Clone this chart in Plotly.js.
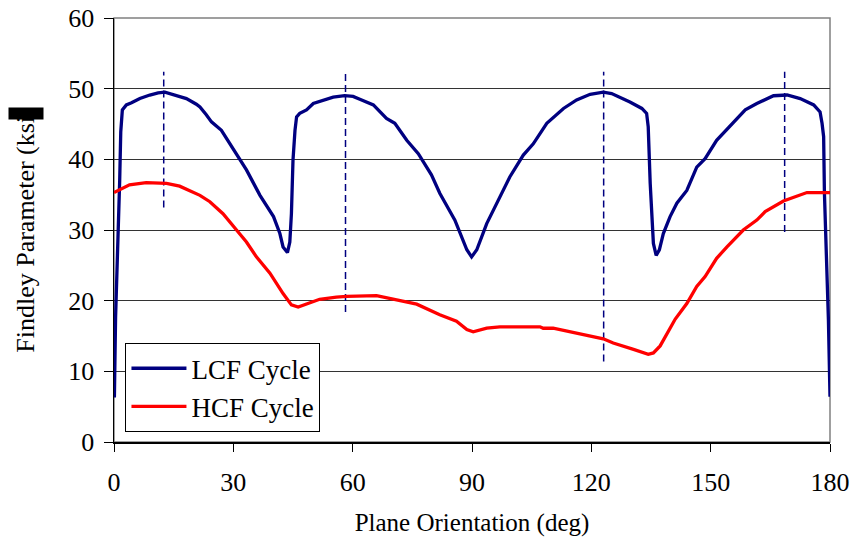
<!DOCTYPE html>
<html>
<head>
<meta charset="utf-8">
<script src="https://cdn.plot.ly/plotly-3.0.1.min.js"></script>
<style>html,body{margin:0;padding:0;background:#fff;}#chart{width:854px;height:544px;}</style>
</head>
<body>
<div id="chart"></div>
<script>
const lcfX = [0.1,0.4,1.43,1.7,2.1,3.1,4.4,6.5,9.0,11.1,12.8,16.1,18.2,20.7,21.6,23.2,24.5,27.0,27.8,29.9,33.3,36.7,40.1,41.7,42.5,43.6,44.2,44.6,45.0,45.5,45.9,46.7,48.4,50.1,52.6,55.1,58.0,60.1,61.8,65.2,68.5,70.6,73.6,76.5,79.8,81.9,85.7,87.4,88.7,89.9,91.2,93.7,96.2,99.5,102.9,105.4,108.8,113.0,116.3,119.7,123.0,125.1,129.7,132.7,133.9,134.3,134.8,135.2,135.6,136.3,137.1,138.1,139.8,141.5,144.0,146.5,148.6,151.5,154.9,158.7,161.6,165.8,169.2,172.5,175.9,177.5,178.0,178.4,178.6,179.0,179.6,180];
const lcfY = [6.3,17.7,37.0,43.9,47.0,47.7,48.0,48.6,49.1,49.4,49.5,49.0,48.6,47.8,47.4,46.3,45.3,44.1,43.4,41.5,38.5,34.9,31.9,29.5,27.6,26.8,28.3,32.3,39.9,44.1,46.0,46.5,47.0,47.9,48.4,48.8,49.0,48.9,48.5,47.7,45.8,45.1,42.7,40.8,37.8,35.2,31.4,29.0,27.2,26.2,27.2,30.9,33.8,37.5,40.6,42.2,45.1,47.2,48.4,49.2,49.5,49.3,48.1,47.2,46.5,44.6,36.6,32.8,28.1,26.4,27.2,29.5,31.9,33.8,35.6,38.9,40.1,42.7,44.8,47.0,47.9,49.0,49.1,48.6,47.7,46.7,45.1,43.2,35.2,28.1,17.3,6.4];
const hcfX = [0,3.9,8.1,13.2,16.5,19.0,21.6,24.1,27.4,30.8,33.3,35.8,39.2,42.5,44.6,46.3,48.4,51.7,55.9,58.5,66.0,67.7,76.1,81.9,86.1,88.7,90.3,93.7,97.0,107.1,107.9,110.4,115.5,123.0,125.5,128.1,130.6,134.3,135.6,137.3,139.8,141.1,144.0,146.5,148.6,151.5,154.1,158.2,161.6,163.7,168.3,174.2,180];
const hcfY = [35.3,36.4,36.7,36.6,36.2,35.5,34.9,34.0,32.3,30.0,28.3,26.2,23.9,21.0,19.4,19.1,19.5,20.2,20.5,20.6,20.7,20.5,19.5,18.0,17.1,15.9,15.6,16.1,16.3,16.3,16.1,16.1,15.5,14.6,14.0,13.6,13.1,12.4,12.6,13.6,16.1,17.4,19.6,22.0,23.4,26.0,27.6,30.0,31.4,32.6,34.1,35.3,35.3];
const markerX = [12.5, 58.2, 123.1, 168.6];
const markerBottom = [33.2, 18.4, 11.4, 29.7];
const markerTop = [52.4, 52.4, 52.4, 52.4];
const xTicks = [0, 30, 60, 90, 120, 150, 180];
const yTicks = [0, 10, 20, 30, 40, 50, 60];

const FONT = '"Times New Roman", "Liberation Serif", serif';
const traces = [];
markerX.forEach((x, i) => {
  traces.push({x: [x, x], y: [markerBottom[i], markerTop[i]], mode: 'lines', showlegend: false,
    line: {color: '#000080', width: 1.5, dash: '7px,4px'}, hoverinfo: 'skip'});
});
traces.push({x: lcfX, y: lcfY, mode: 'lines', name: 'LCF Cycle', line: {color: '#000080', width: 3.3}});
traces.push({x: hcfX, y: hcfY, mode: 'lines', name: 'HCF Cycle', line: {color: '#ff0000', width: 3.3}});

const layout = {
  width: 854, height: 544,
  margin: {l: 114, r: 24, t: 18, b: 102},
  paper_bgcolor: '#fff', plot_bgcolor: '#fff',
  font: {family: FONT, size: 26, color: '#000'},
  xaxis: {range: [0, 180], tickvals: xTicks, ticktext: xTicks.map(String),
    showgrid: false, zeroline: false, showline: true, linecolor: '#000', linewidth: 1.5,
    ticks: 'outside', ticklen: 8, tickcolor: '#000', tickfont: {family: FONT, size: 26},
    ticklabelstandoff: 8,
    title: {text: 'Plane Orientation (deg)', font: {family: FONT, size: 25}, standoff: 18}},
  yaxis: {range: [0, 60], tickvals: yTicks, ticktext: yTicks.map(String),
    showgrid: true, gridcolor: '#333', gridwidth: 1, zeroline: false, showline: true,
    linecolor: '#000', linewidth: 1.5, ticks: 'outside', ticklen: 9, tickcolor: '#000',
    tickfont: {family: FONT, size: 26}, ticklabelstandoff: 4,
    title: {text: 'Findley Parameter (ksi)', font: {family: FONT, size: 26}, standoff: 26}},
  shapes: [{type: 'rect', xref: 'paper', yref: 'paper', x0: 0, x1: 1, y0: 0, y1: 1,
    line: {color: '#808080', width: 1.5}, layer: 'below'}],
  legend: {x: 0.016, y: 0.233, xanchor: 'left', yanchor: 'top', bgcolor: '#fff',
    bordercolor: '#000', borderwidth: 1, font: {family: FONT, size: 27}, itemwidth: 55},
  annotations: [{xref: 'paper', yref: 'paper', x: -0.1234, y: 0.7736, xanchor: 'center', yanchor: 'middle',
    text: ' ', showarrow: false, bgcolor: '#000', width: 34, height: 11, borderpad: 0, font: {size: 6}}]
};
Plotly.newPlot('chart', traces, layout, {displayModeBar: false, staticPlot: true});
</script>
</body>
</html>
